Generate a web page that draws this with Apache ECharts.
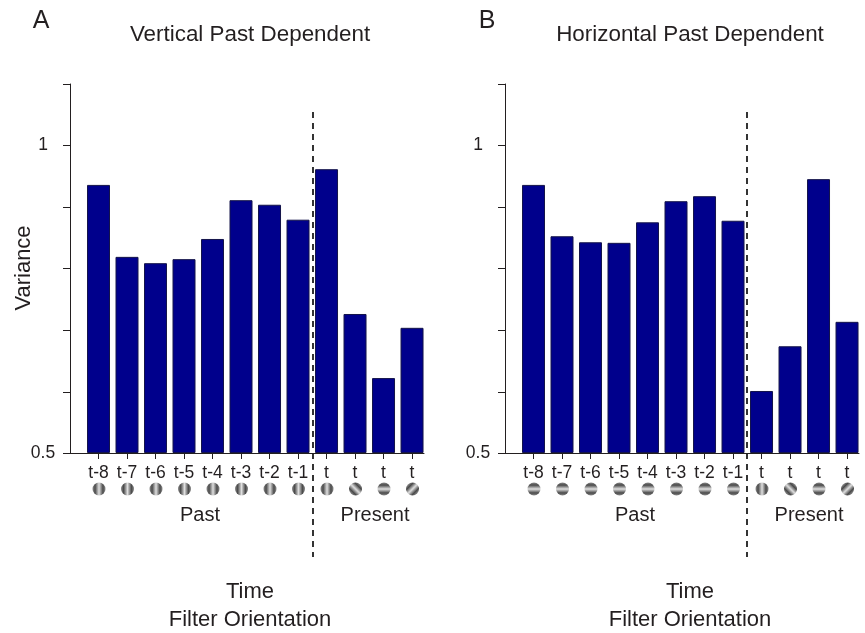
<!DOCTYPE html>
<html><head><meta charset="utf-8">
<script src="https://cdn.jsdelivr.net/npm/echarts@6/dist/echarts.min.js"></script>
<style>html,body{margin:0;background:#fff}#c{width:865px;height:633px}</style></head>
<body><div id="c"></div>
<script>
const tickLabels = ['t-8','t-7','t-6','t-5','t-4','t-3','t-2','t-1','t','t','t','t'];
const verticalPast = [0.915,0.778,0.767,0.774,0.810,0.884,0.875,0.846,0.948,0.684,0.592,0.663];
const horizontalPast = [0.915,0.815,0.804,0.803,0.841,0.882,0.892,0.844,0.575,0.636,0.927,0.672];
const positions = [1,2,3,4,5,6,7,8,9,10,11,12];
const yTicks = [0.5,0.574,0.66,0.758,0.871,1,1.1487];
const yLabels = [0.5,1];
// grating orientation (degrees) per bar, 0 = vertical stripes
const gratingsA = [0,0,0,0,0,0,0,0,0,-45,90,45];
const gratingsB = [90,90,90,90,90,90,90,90,0,-45,90,45];
const TXT='#231f20', FONT='"Liberation Sans",Arial,sans-serif';
const chart = echarts.init(document.getElementById('c'),null,{renderer:'canvas'});
function grating(cx,cy,deg){
  const r=6.5, a=deg*Math.PI/180, dx=Math.cos(a)/2, dy=Math.sin(a)/2;
  return {type:'circle',shape:{cx,cy,r},silent:true,style:{fill:new echarts.graphic.LinearGradient(0.5-dx,0.5-dy,0.5+dx,0.5+dy,[
    {offset:0,color:'#8a8a8a'},{offset:0.2,color:'#4a4a4a'},{offset:0.5,color:'#e0e0e0'},
    {offset:0.8,color:'#4a4a4a'},{offset:1,color:'#8a8a8a'}])}};
}
function xAxis(i){return {gridIndex:i,type:'value',min:0,max:12.42,
  axisLine:{show:true,lineStyle:{color:TXT,width:1}},splitLine:{show:false},
  axisTick:{show:true,length:6,inside:false,customValues:positions,lineStyle:{color:TXT}},
  axisLabel:{show:true,customValues:positions,fontSize:17.5,color:TXT,fontFamily:FONT,margin:11,hideOverlap:false,
    formatter:v=>tickLabels[Math.round(v)-1]}};}
function yAxis(i){return {gridIndex:i,type:'log',logBase:2,min:0.5,max:1.1487,startValue:0.5,
  axisLine:{show:true,onZero:false,lineStyle:{color:TXT,width:1}},splitLine:{show:false},minorTick:{show:false},
  axisTick:{show:true,length:7,customValues:yTicks,lineStyle:{color:TXT}},
  axisLabel:{show:true,customValues:yLabels,fontSize:17.5,color:TXT,fontFamily:FONT,margin:27,align:'center',formatter:v=>String(+v.toFixed(1))}};}
function bars(i,vals){return {type:'bar',xAxisIndex:i,yAxisIndex:i,barWidth:23,silent:true,animation:false,
  data:vals.map((v,k)=>[positions[k],v]),
  itemStyle:{color:'#00008c',borderColor:'#14144a',borderWidth:1}};}
function gratingSeries(i,degs){return {type:'custom',xAxisIndex:i,yAxisIndex:i,silent:true,animation:false,clip:false,
  data:positions.map((p,k)=>[p,0.5,degs[k]]),
  renderItem:(params,api)=>{const c=api.coord([api.value(0),api.value(1)]);return grating(c[0]+0.5,c[1]+36,api.value(2));}};}
function text(x,y,t,size,extra){return Object.assign({type:'text',x,y,silent:true,
  style:{text:t,fill:TXT,font:size+'px '+FONT,align:'center',verticalAlign:'middle'}},extra||{});}
function dash(x){return {type:'line',silent:true,shape:{x1:x,y1:112,x2:x,y2:557},style:{stroke:'#111',lineWidth:1.7,lineDash:[6,5]}};}
chart.setOption({
  animation:false,
  grid:[{left:70,top:84,width:354,height:369},{left:505,top:84,width:354,height:369}],
  xAxis:[xAxis(0),xAxis(1)],
  yAxis:[yAxis(0),yAxis(1)],
  series:[bars(0,verticalPast),bars(1,horizontalPast),gratingSeries(0,gratingsA),gratingSeries(1,gratingsB)],
  graphic:[
    dash(313),dash(747),
    text(41,21,'A',25),text(487,21,'B',25),
    text(250,35,'Vertical Past Dependent',22.4),text(690,35,'Horizontal Past Dependent',22.4),
    text(24,268,'Variance',22,{rotation:Math.PI/2}),
    text(200,515,'Past',20),text(375,515,'Present',20),
    text(635,515,'Past',20),text(809,515,'Present',20),
    text(250,592,'Time',22),text(250,620,'Filter Orientation',22),
    text(690,592,'Time',22),text(690,620,'Filter Orientation',22)
  ]
});
</script></body></html>
